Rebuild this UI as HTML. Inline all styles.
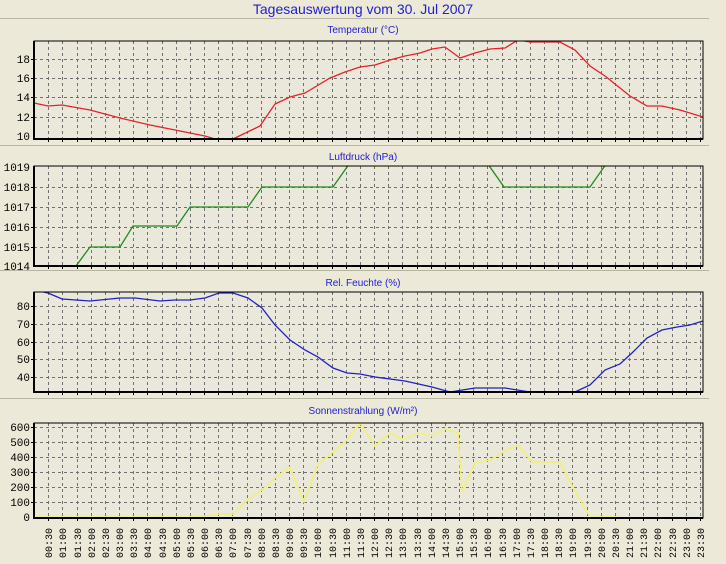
<!DOCTYPE html>
<html><head><meta charset="utf-8"><style>
html,body{margin:0;padding:0;background:#ECE9D8;width:726px;height:564px;overflow:hidden}
svg{display:block}
.t{font-family:"Liberation Sans",sans-serif;fill:#2020d0}
.y{font-family:"Liberation Mono",monospace;font-size:11px;fill:#000}
.x{font-family:"Liberation Mono",monospace;font-size:10px;fill:#000}
</style></head><body>
<svg id="s" width="726" height="564" xmlns="http://www.w3.org/2000/svg">
<rect width="726" height="564" fill="#ECE9D8"/>
<g stroke="#b8b5a5" stroke-width="1">
<line x1="0" y1="18.5" x2="709" y2="18.5"/><line x1="0" y1="145.5" x2="709" y2="145.5"/>
<line x1="0" y1="270.5" x2="709" y2="270.5"/><line x1="0" y1="398.5" x2="709" y2="398.5"/>
</g>
<text class="t" x="363" y="14" font-size="14" text-anchor="middle">Tagesauswertung vom 30. Jul 2007</text>
<text class="t" x="363" y="33" font-size="10" text-anchor="middle">Temperatur (°C)</text>
<text class="t" x="363" y="160" font-size="10" text-anchor="middle">Luftdruck (hPa)</text>
<text class="t" x="363" y="286" font-size="10" text-anchor="middle">Rel. Feuchte (%)</text>
<text class="t" x="363" y="414" font-size="10" text-anchor="middle">Sonnenstrahlung (W/m²)</text>
<g id="grid"></g>
<defs>
<clipPath id="c1"><rect x="34" y="41" width="669" height="98"/></clipPath>
<clipPath id="c2"><rect x="34" y="166" width="669" height="100"/></clipPath>
<clipPath id="c3"><rect x="34" y="292" width="669" height="100"/></clipPath>
<clipPath id="c4"><rect x="34" y="423" width="669" height="95"/></clipPath>
</defs>
<polyline clip-path="url(#c1)" fill="none" stroke="#e8202a" stroke-width="1.3" points="34,103 48,106 62,105 90,110 120,118 150,125 180,131 205,136 215,139 233,139 260,126 275,104 290,97 305,93 320,84 330,78 345,72 360,67 375,65 390,60 405,56 420,53 432,49 445,47 460,58 475,53 490,49 505,48 518,40 530,42 560,42 575,50 590,66 605,76 630,96 647,106 662,106 680,110 703,117"/>
<polyline clip-path="url(#c2)" fill="none" stroke="#208a20" stroke-width="1.3" points="34,286 62,286 76,266 90,247 120,247 133,226 177,226 190,207 248,207 262,187 333,187 347,167 360,150 480,150 490,167 504,187 590,187 604,167 620,150 703,150"/>
<polyline clip-path="url(#c3)" fill="none" stroke="#2020c8" stroke-width="1.3" points="34,290 48,293 62,299 90,301 120,298 135,298 160,301 175,300 190,300 205,298 219,293 233,293 248,298 262,308 275,325 290,340 305,350 318,357 333,368 347,373 360,374 375,377 405,381 432,387 450,392 475,388 505,388 530,392 575,392 590,385 605,370 620,364 632,353 647,338 662,330 677,327 690,325 703,321"/>
<polyline clip-path="url(#c4)" fill="none" stroke="#f4f070" stroke-width="1.5" points="34,517 190,517 205,516 219,514 233,514 248,500 262,490 275,478 290,467 304,502 318,464 333,452 347,440 360,423 375,446 390,433 403,440 417,433 432,436 445,429 458,433 462,492 475,463 490,460 505,451 518,445 532,462 560,462 575,491 590,517 615,517"/>
<g id="frames"></g>
<g class="y" text-anchor="end">
<text x="30" y="63">18</text><text x="30" y="82">16</text><text x="30" y="101">14</text><text x="30" y="121">12</text><text x="30" y="140">10</text>
<text x="30" y="171">1019</text><text x="30" y="191">1018</text><text x="30" y="211">1017</text><text x="30" y="231">1016</text><text x="30" y="251">1015</text><text x="30" y="270">1014</text>
<text x="30" y="310">80</text><text x="30" y="328">70</text><text x="30" y="346">60</text><text x="30" y="363">50</text><text x="30" y="381">40</text>
<text x="30" y="431">600</text><text x="30" y="446">500</text><text x="30" y="461">400</text><text x="30" y="476">300</text><text x="30" y="491">200</text><text x="30" y="506">100</text><text x="30" y="521">0</text>
</g>
<g class="x" id="xl">
<text>00:30</text><text>01:00</text><text>01:30</text><text>02:00</text><text>02:30</text><text>03:00</text><text>03:30</text><text>04:00</text><text>04:30</text><text>05:00</text><text>05:30</text><text>06:00</text><text>06:30</text><text>07:00</text><text>07:30</text><text>08:00</text><text>08:30</text><text>09:00</text><text>09:30</text><text>10:00</text><text>10:30</text><text>11:00</text><text>11:30</text><text>12:00</text><text>12:30</text><text>13:00</text><text>13:30</text><text>14:00</text><text>14:30</text><text>15:00</text><text>15:30</text><text>16:00</text><text>16:30</text><text>17:00</text><text>17:30</text><text>18:00</text><text>18:30</text><text>19:00</text><text>19:30</text><text>20:00</text><text>20:30</text><text>21:00</text><text>21:30</text><text>22:00</text><text>22:30</text><text>23:00</text><text>23:30</text>
</g>
</svg>
<script>
var NS="http://www.w3.org/2000/svg";
function el(p,n,a){var e=document.createElementNS(NS,n);for(var k in a)e.setAttribute(k,a[k]);p.appendChild(e);return e;}
var g=document.getElementById('grid'),f=document.getElementById('frames');
var panels=[[41,139,[59,78,97,117]],[166,266,[187,207,227,247]],[292,392,[306,324,342,359,377]],[423,518,[427,442,457,472,487,502]]];
var dx=14.17;
panels.forEach(function(p){
 el(g,'rect',{x:34,y:p[0],width:669,height:p[1]-p[0],fill:'#E9E8DA'});
 for(var i=1;i<=47;i++){var x=Math.round(34+i*dx)+0.5;
  el(g,'line',{x1:x,y1:p[0],x2:x,y2:p[1],stroke:'#707070','stroke-dasharray':'3,3','stroke-width':1});
  el(g,'line',{x1:x,y1:p[1],x2:x,y2:p[1]+3,stroke:'#000'});}
 p[2].forEach(function(y){el(g,'line',{x1:34,y1:y+0.5,x2:703,y2:y+0.5,stroke:'#707070','stroke-dasharray':'3,3'});
  el(g,'line',{x1:31,y1:y+0.5,x2:34,y2:y+0.5,stroke:'#000'});});
 el(f,'rect',{x:34,y:p[0],width:669,height:p[1]-p[0],fill:'none',stroke:'#000','stroke-width':1});
 el(f,'line',{x1:34,y1:p[0],x2:34,y2:p[1]+1,stroke:'#000','stroke-width':2});
 el(f,'line',{x1:33,y1:p[1],x2:703,y2:p[1],stroke:'#000','stroke-width':2});
});
var ts=document.getElementById('xl').children;
for(var i=0;i<ts.length;i++){var x=Math.round(34+(i+1)*dx)+4;
 ts[i].setAttribute('transform','translate('+x+',558) rotate(-90)');}
</script>
</body></html>
